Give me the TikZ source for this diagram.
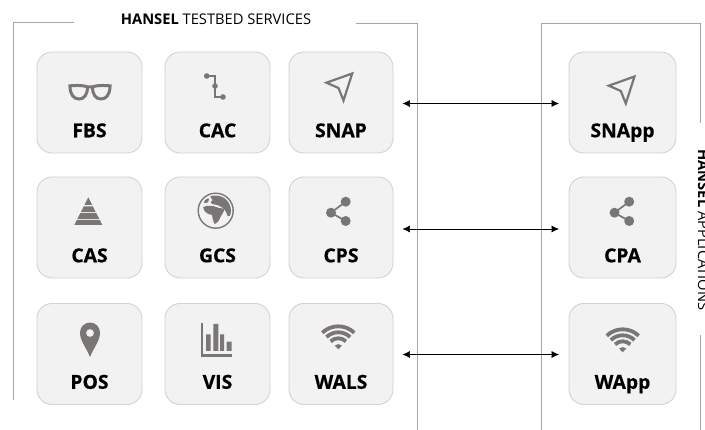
\documentclass[tikz,border=0pt]{standalone}
\usepackage{fontspec}
\setmainfont{Open Sans}
\newfontfamily\svcfont[BoldFeatures={FakeBold=0.5}]{Open Sans}
\usetikzlibrary{arrows.meta,calc}
\definecolor{icongray}{HTML}{7A7675}
\definecolor{boxfill}{HTML}{F2F2F2}
\definecolor{boxline}{HTML}{D2D2D2}
\definecolor{frameline}{HTML}{A6A6A6}
\tikzset{
  svc/.style={draw=boxline,fill=boxfill,line width=0.9pt,rounded corners=15pt,minimum height=101pt,inner sep=0pt},
  svclabel/.style={anchor=base,inner sep=0pt,font=\svcfont\fontsize{19.3}{21}\selectfont\bfseries,text=black},
  framestroke/.style={draw=frameline,line width=1pt},
  biarrow/.style={draw=black,line width=0.7pt,{Latex[length=7.5pt,width=7pt]}-{Latex[length=7.5pt,width=7pt]},shorten <=9pt,shorten >=9.5pt},
  ic/.style={fill=icongray,draw=none},
  icl/.style={draw=icongray,fill=none},
  ttl/.style={font=\fontsize{14.7}{16}\selectfont,text=black,inner sep=0pt}
}
\newcommand{\svcbox}[5]{\node[svc,minimum width=#4pt] (#1) at (#2,#3) {};\node[svclabel] (#1t) at (#2,#3+34.8) {#5};}
\begin{document}
\begin{tikzpicture}[x=1pt,y=-1pt]
\useasboundingbox (0,0) rectangle (705,430);
% frames
\draw[framestroke] (74,22.5) -- (13.5,22.5) -- (13.5,400);
\draw[framestroke] (356,23.5) -- (417,23.5) -- (417,430);
\draw[framestroke] (541,430) -- (541,23.5) -- (700.5,23.5) -- (700.5,123);
\draw[framestroke] (700.5,335) -- (700.5,430);
% titles
\node[ttl] (t1) at (216,19) {\textbf{HANSEL} TESTBED SERVICES};
\node[ttl,rotate=-90,anchor=base] (t2) at (698,230) {\textbf{HANSEL} APPLICATIONS};
% boxes
\svcbox{fbs}{89.5}{102.5}{105}{FBS}
\svcbox{cac}{217.5}{102.5}{105}{CAC}
\svcbox{snap}{341}{102.5}{104}{SNAP}
\svcbox{snapp}{622.5}{102.5}{107}{SNApp}
\svcbox{cas}{89.5}{227.5}{105}{CAS}
\svcbox{gcs}{217.5}{227.5}{105}{GCS}
\svcbox{cps}{341}{227.5}{104}{CPS}
\svcbox{cpa}{622.5}{227.5}{107}{CPA}
\svcbox{pos}{89.5}{354}{105}{POS}
\svcbox{vis}{217.5}{354}{105}{VIS}
\svcbox{wals}{341}{354}{104}{WALS}
\svcbox{wapp}{622.5}{354}{107}{WApp}
% arrows
\draw[biarrow] ($(snap.east)+(0,1)$) -- ($(snapp.west)+(0,1)$);
\draw[biarrow] ($(cps.east)+(0,1.5)$) -- ($(cpa.west)+(0,1.5)$);
\draw[biarrow] ($(wals.east)+(0,0.5)$) -- ($(wapp.west)+(0,0.5)$);
% glasses
\begin{scope}[shift={(90,92)}]
\draw[icl,line width=3pt,line join=round] (-21.5,-6) .. controls (-12,-7) and (-6,-6.5) .. (-2,-5) -- (2,-5) .. controls (6,-6.5) and (12,-7) .. (21.5,-6);
\draw[icl,line width=3pt] (-20,-6) .. controls (-20,3) and (-16,7) .. (-11,7) .. controls (-6,7) and (-2.5,3) .. (-2.5,-5);
\draw[icl,line width=3pt] (20,-6) .. controls (20,3) and (16,7) .. (11,7) .. controls (6,7) and (2.5,3) .. (2.5,-5);
\end{scope}
% CAC
\draw[icl,line width=1.4pt] (206.7,76) -- (215,76) -- (215,97) -- (223,97);
\fill[ic] (206.7,76) circle (2.8) (215,86) circle (2.8) (223,97) circle (2.8);
% navigation
\newcommand{\navicon}[2]{\draw[icl,line width=2.2pt,line join=miter,shift={(#1,#2)}] (352.2,73.5) -- (326.5,82.7) -- (338.5,88) -- (343.5,100.5) -- cycle;}
\navicon{0}{0}
\navicon{282.3}{3}
% pyramid
\fill[ic] (88.3,197.3) -- (92.2,205) -- (84.4,205) -- cycle;
\fill[ic] (83.7,206.4) -- (92.9,206.4) -- (95.7,212) -- (80.9,212) -- cycle;
\fill[ic] (80.4,213) -- (96.2,213) -- (99.3,219) -- (77.3,219) -- cycle;
\fill[ic] (76.8,220) -- (99.8,220) -- (102.3,225) -- (74.3,225) -- cycle;
% globe
\begin{scope}[shift={(215.7,210.7)}]
\draw[icl,line width=1.4pt] (0,0) circle (17.5);
\begin{scope}
\clip (0,0) circle (15.2);
\fill[ic] (-12.5,-3.5) .. controls (-8,-6) and (-4,-4.5) .. (-2,-4.5) .. controls (1,-3) and (4,-2.5) .. (9,-2) .. controls (9,1) and (6,3) .. (5,6) .. controls (4,9) and (2,12) .. (0,13) -- (-1.5,13) .. controls (-3,10) and (-3,6) .. (-4,4) .. controls (-7,4) and (-12,2) .. (-12.5,-3.5) -- cycle;
\fill[ic] (-6,-15) -- (16,-15) -- (16,5) -- (12,5.5) .. controls (11,2) and (9,-2) .. (6,-3.5) .. controls (3,-5) and (0,-7) .. (-3,-6.5) .. controls (-5,-7) and (-6,-9) .. (-3,-10.5) .. controls (-4,-12) and (-5,-13) .. (-6,-15) -- cycle;
\fill[ic] (-12,-8) .. controls (-11,-11) and (-8,-13) .. (-6.5,-12) .. controls (-6,-9.5) and (-8,-7) .. (-12,-8) -- cycle;
\end{scope}
\end{scope}
% share
\newcommand{\shareicon}[2]{\begin{scope}[shift={(#1,#2)}]
\draw[icl,line width=1.7pt] (14.7,-11) -- (0,0) -- (14.7,8.3);
\fill[ic] (14.7,-11) circle (5) (0,0) circle (5) (14.7,8.3) circle (5);
\end{scope}}
\shareicon{331}{212.7}
\shareicon{614.5}{212.7}
% pin
\fill[ic,even odd rule] (90,357) .. controls (86,347) and (80,341) .. (80,332.5) .. controls (80,327) and (84.5,322.5) .. (90,322.5) .. controls (95.5,322.5) and (100,327) .. (100,332.5) .. controls (100,341) and (94,347) .. (90,357) -- cycle (90,333) circle (4);
% chart
\draw[icl,line width=2.2pt] (201.7,323) -- (201.7,355.5) -- (232,355.5);
\fill[ic] (206,334.3) rectangle (210.7,351) (213.3,324) rectangle (218.3,351) (220,334.3) rectangle (224,351) (226.7,341.7) rectangle (231.7,351);
% wifi
\newcommand{\wifiicon}[2]{\begin{scope}[shift={(#1,#2)}]
\fill[ic] (0,0) -- (226:5.2) arc[start angle=226,end angle=314,radius=5.2] -- cycle;
\draw[icl,line width=3.8pt] (226:11) arc[start angle=226,end angle=314,radius=11];
\draw[icl,line width=3.8pt] (226:17) arc[start angle=226,end angle=314,radius=17];
\draw[icl,line width=3.8pt] (226:23) arc[start angle=226,end angle=314,radius=23];
\end{scope}}
\wifiicon{338.3}{349.3}
\wifiicon{622.7}{352.3}
\end{tikzpicture}
\end{document}
